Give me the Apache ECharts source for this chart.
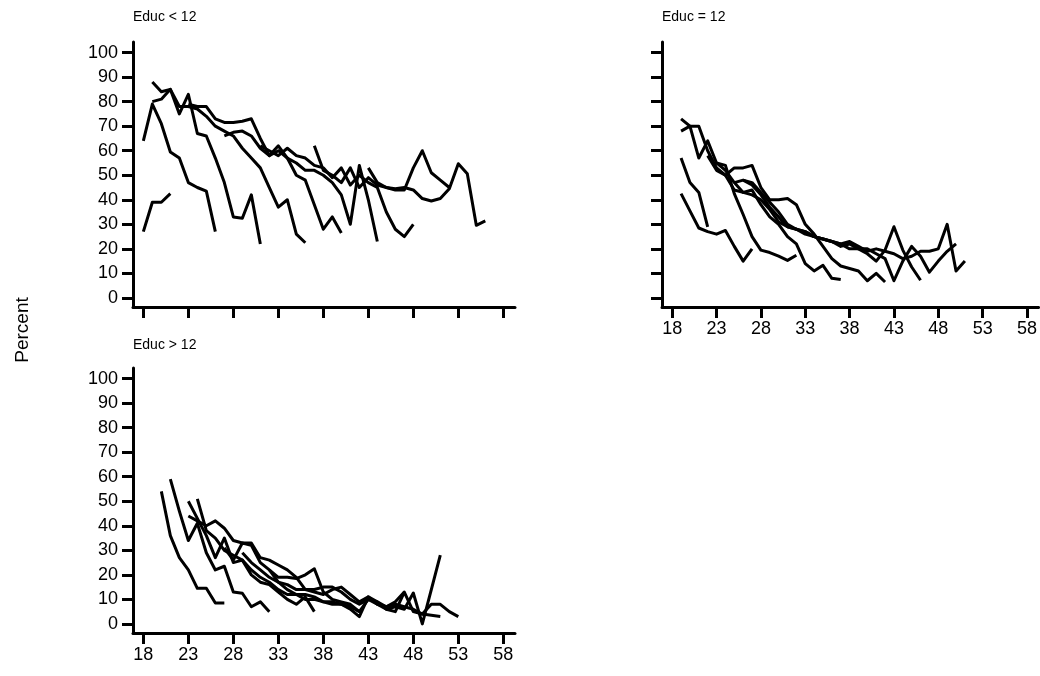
<!DOCTYPE html>
<html>
<head>
<meta charset="utf-8">
<script src="https://cdn.jsdelivr.net/npm/echarts@6.0.0/dist/echarts.min.js"></script>
<style>
html,body{margin:0;padding:0;background:#fff;}
#chart{width:1040px;height:676px;}
</style>
</head>
<body>
<div id="chart"></div>
<script>
//tick labels
var ageTicks=[18,23,28,33,38,43,48,53,58];
var pctTicks=[0,10,20,30,40,50,60,70,80,90,100];
var panelTitles=["Educ < 12","Educ = 12","Educ > 12"];

//Educ < 12 : first age of each cohort line, then percent by age
var startLt12=[18,18,19,19,23,27,31,37,43];
var pctLt12=[
	[27,39,39,42.5],
	[64,79,71,59.5,57,47,45,43.5,27],
	[80,81,85,75,83,67,66,57,47,33,32.5,42,22],
	[88,84,85,78,78,77,74,70,68,66,61,57,53,45,37,40,26,22.5],
	[79,78,78,73,71.5,71.5,72,73,65,58,62,57,50,48,38,28,33,26.5],
	[66,67.5,68,66,61,58,60,57,55,52,52,50,47,42,30,54,40,23],
	[62,60,58,61,58,57,54,53,49,53,46,50,47,45,35,28,25,30],
	[62,52,50,47,53,45,49,46,45,44,44,53,60,51,48,45],
	[53,47,45,44.5,45,44,40.5,39.5,40.5,44.5,54.7,50.6,29.6,31.4]
];

//Educ = 12
var startEq12=[19,19,19,19,22,23,25,26];
var pctEq12=[
	[57,47,43,29],
	[42.5,35.5,28.5,27,26,27.5,21,15,20],
	[73,70,57,64,55,54,42.5,34,25,19.5,18.5,17,15.3,17.4],
	[68,70,70,60,53,50,44,43,44,38,33,30,25,22,14,11,13.3,8,7.5],
	[58,52,50,53,53,54,45,40,40,40.5,38,30,26,21,16,13,12,11,7,10,6.5],
	[55,52,47,43,42,40,36,31,29,28,27,25,24,23,22,20,20,18,15,19.5,29,19.5,12.6,7.2],
	[47,48,46,42,37,33,29,28,26,25,24,23,21,22,20,20,18,16,7,15,21,17,10.5,15,19,22],
	[48,47,43,39,35,30,28,27,25,24,23,22,23,21,19,20,19,18,16,17,19,19,20,30,11,15]
];

//Educ > 12
var startGt12=[20,21,23,24,23,27,29,32];
var pctGt12=[
	[54,36,27,22,14.5,14.5,8.5,8.5],
	[59,46,34,41,29,22,23.5,13,12.5,7,9,5],
	[50,43,36,27,35,25,26,20,17,16,13,10,8,11,5],
	[51,38,35,30,28,26,22,19,17,14,12,12,12,11,9,9,8,7,5],
	[44,42,40,42,39,34,33,33,27,26,24,22,19,14,13,12,14,15,12,9,11,8,7,9,13],
	[31,26,33,32,25,22,19,19,18.5,20,22.5,13,10,9,8,5,10,8,6,7,6,12.6,0,14,28],
	[29,25,22,19,17,16,14,14,14,15,15,13,10,8,10,9,7,8,7,6,4,8,8,5,3],
	[22,17,14,12,10,10,9,8,8,6,3,11,9,6,5,13,5,4,3.5,3]
];

var font='"Liberation Sans", Arial, sans-serif';

/*
*grid positions of the three panels
*/
var grids=[
	{left:133,top:42,width:382,height:265},
	{left:662,top:42,width:382,height:265},
	{left:133,top:368,width:382,height:265}
];

function makeX(idx,showLabel){
	return {
		type:'value',gridIndex:idx,min:16.85,max:59.3,
		axisLine:{show:true,onZero:false,lineStyle:{color:'#000',width:3}},
		axisTick:{show:true,length:11,customValues:ageTicks,lineStyle:{color:'#000',width:3}},
		axisLabel:{show:showLabel,customValues:ageTicks,color:'#000',fontSize:18,fontFamily:font,margin:13},
		splitLine:{show:false}
	};
}
function makeY(idx,showLabel){
	return {
		type:'value',gridIndex:idx,min:-3.7,max:104.3,
		axisLine:{show:true,onZero:false,lineStyle:{color:'#000',width:3}},
		axisTick:{show:true,length:11,customValues:pctTicks,lineStyle:{color:'#000',width:3}},
		axisLabel:{show:showLabel,customValues:pctTicks,color:'#000',fontSize:18,fontFamily:font,margin:15},
		splitLine:{show:false}
	};
}

/*
*build line series for one panel
*/
function panelSeries(starts,pcts,idx){
	var out=[];
	for(var i=0;i<pcts.length;i++){
		var data=[];
		for(var k=0;k<pcts[i].length;k++){
			data.push([starts[i]+k,pcts[i][k]]);
		}
		out.push({
			type:'line',xAxisIndex:idx,yAxisIndex:idx,data:data,
			symbol:'none',silent:true,
			lineStyle:{color:'#000',width:3,join:'round'}
		});
	}
	return out;
}

var series=[].concat(
	panelSeries(startLt12,pctLt12,0),
	panelSeries(startEq12,pctEq12,1),
	panelSeries(startGt12,pctGt12,2)
);

var option={
	animation:false,
	backgroundColor:'#fff',
	title:[
		{text:panelTitles[0],left:133,top:10,padding:0,textStyle:{color:'#000',fontSize:14,fontWeight:'normal',fontFamily:font}},
		{text:panelTitles[1],left:662,top:10,padding:0,textStyle:{color:'#000',fontSize:14,fontWeight:'normal',fontFamily:font}},
		{text:panelTitles[2],left:133,top:338,padding:0,textStyle:{color:'#000',fontSize:14,fontWeight:'normal',fontFamily:font}}
	],
	grid:grids,
	xAxis:[makeX(0,false),makeX(1,true),makeX(2,true)],
	yAxis:[makeY(0,true),makeY(1,false),makeY(2,true)],
	graphic:[{
		type:'text',x:13,y:330,rotation:Math.PI/2,
		style:{text:'Percent',fill:'#000',font:'19px '+font,textAlign:'center',textVerticalAlign:'top'}
	}],
	series:series
};

var myChart=echarts.init(document.getElementById('chart'));
myChart.setOption(option);
</script>
</body>
</html>
